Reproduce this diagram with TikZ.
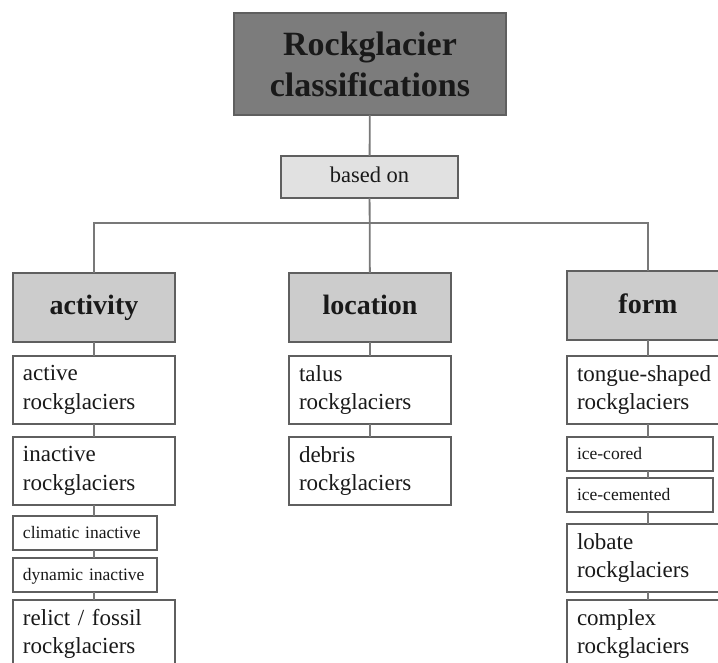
\documentclass[tikz,border=0pt]{standalone}
\usepackage{fontspec}
\setmainfont{Liberation Serif}
\definecolor{titlegray}{RGB}{124, 124, 124}
\definecolor{catgray}{RGB}{204, 204, 204}
\definecolor{basegray}{RGB}{225, 225, 225}
\definecolor{framegray}{RGB}{95, 95, 95}
\definecolor{linkgray}{RGB}{120, 120, 120}
\definecolor{inkblack}{RGB}{25, 25, 25}
\usetikzlibrary{positioning}

\begin{document}
\begin{tikzpicture}[x=1pt, y=-1pt,
    every node/.style={text=inkblack},
    box/.style={draw=framegray, line width=1.6pt, inner sep=0pt, outer sep=0pt, anchor=north west},
    titlebox/.style={box, fill=titlegray, minimum width=272pt, minimum height=102pt, align=center,
      font=\fontsize{34}{41}\selectfont\bfseries},
    basebox/.style={box, fill=basegray, minimum width=177pt, minimum height=42pt,
      text height=15pt, text depth=4pt, font=\fontsize{22.5}{27}\selectfont},
    catbox/.style={box, fill=catgray, minimum width=162pt, minimum height=69pt,
      text height=19pt, text depth=4pt, font=\fontsize{28}{34}\selectfont\bfseries},
    itembox/.style={box, fill=white, text width=142pt, inner xsep=10pt, minimum height=68pt, align=left,
      font=\fontsize{23}{28.5}\selectfont},
    subbox/.style={box, fill=white, inner xsep=10pt, minimum height=34pt, align=left,
      text height=13pt, text depth=3pt, font=\fontsize{17.5}{21}\selectfont},
    link/.style={draw=linkgray, line width=1.8pt}]
  \useasboundingbox (0,0) rectangle (718,663);
  \clip (0,0) rectangle (718,663);

  % Top of the tree
  \node[titlebox] (title) at (234,13) {Rockglacier\\classifications};
  \node[basebox] (basedon) at (281,156) {based on};

  % Three criteria
  \node[catbox] (activity) at (13,273) {activity};
  \node[catbox] (location) at (289,273) {location};
  \node[catbox] (form) at (567,271) {form};

  % Activity column
  \node[itembox] (act1) at (13,356) {active\\rockglaciers};
  \node[itembox] (act2) at (13,437) {inactive\\rockglaciers};
  \node[subbox, text width=124pt] (act3) at (13,516) {climatic inactive};
  \node[subbox, text width=124pt] (act4) at (13,558) {dynamic inactive};
  \node[itembox] (act5) at (13,600) {relict / fossil\\rockglaciers};

  % Location column
  \node[itembox] (loc1) at (289,356) {talus\\rockglaciers};
  \node[itembox] (loc2) at (289,437) {debris\\rockglaciers};

  % Form column
  \node[itembox] (form1) at (567,356) {tongue-shaped\\rockglaciers};
  \node[subbox, text width=126pt] (form2) at (567,437) {ice-cored};
  \node[subbox, text width=126pt] (form3) at (567,478) {ice-cemented};
  \node[itembox] (form4) at (567,524) {lobate\\rockglaciers};
  \node[itembox] (form5) at (567,600) {complex\\rockglaciers};

  % Connectors
  \coordinate (hbar) at (0,223);
  \draw[link] (title) -- (basedon);
  \draw[link] (basedon) -- (location);
  \draw[link] (activity.north) -- (activity.north |- hbar) -- (form.north |- hbar) -- (form.north);
  \foreach \a/\b in {activity/act1, act1/act2, act2/act3, act3/act4, act4/act5}
    \draw[link] (\a.south -| activity) -- (\b.north -| activity);
  \draw[link] (location) -- (loc1);
  \draw[link] (loc1) -- (loc2);
  \foreach \a/\b in {form/form1, form1/form2, form2/form3, form3/form4, form4/form5}
    \draw[link] (\a.south -| form) -- (\b.north -| form);
\end{tikzpicture}
\end{document}
